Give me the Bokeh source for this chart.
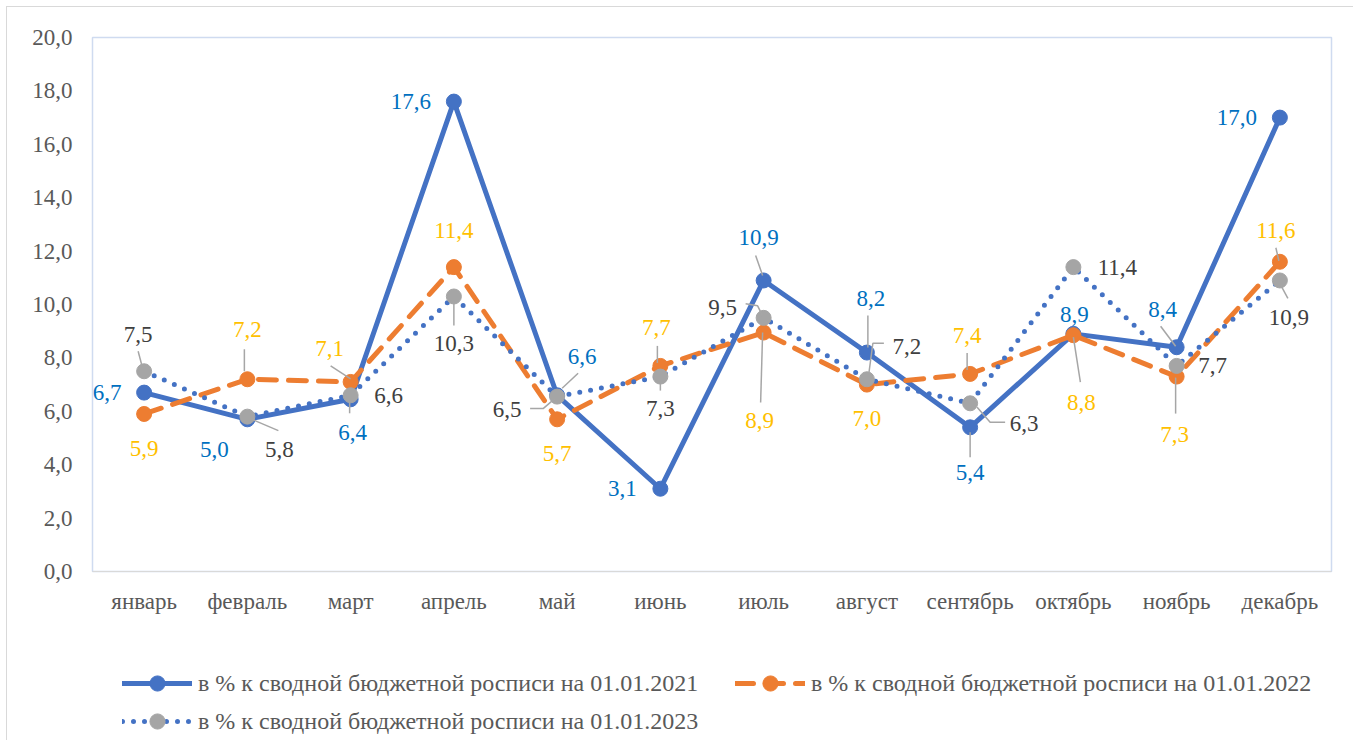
from bokeh.plotting import figure
from bokeh.layouts import column
from bokeh.models import (Range1d, FixedTicker, CustomJSTickFormatter, Legend,
                          LegendItem, ColumnDataSource)
from bokeh.core.properties import value
from bokeh.embed import file_html
from bokeh.resources import INLINE

# ---------------- data ----------------
months = ["январь", "февраль", "март", "апрель", "май", "июнь", "июль",
          "август", "сентябрь", "октябрь", "ноябрь", "декабрь"]

s2021 = [6.7, 5.7, 6.45, 17.6, 6.6, 3.1, 10.9, 8.2, 5.4, 8.9, 8.4, 17.0]
lab2021 = ["6,7", "5,0", "6,4", "17,6", "6,6", "3,1", "10,9", "8,2", "5,4", "8,9", "8,4", "17,0"]

s2022 = [5.9, 7.2, 7.1, 11.4, 5.7, 7.7, 8.95, 7.0, 7.4, 8.85, 7.3, 11.6]
lab2022 = ["5,9", "7,2", "7,1", "11,4", "5,7", "7,7", "8,9", "7,0", "7,4", "8,8", "7,3", "11,6"]

s2023 = [7.5, 5.8, 6.6, 10.3, 6.55, 7.3, 9.5, 7.2, 6.3, 11.4, 7.7, 10.9]
lab2023 = ["7,5", "5,8", "6,6", "10,3", "6,5", "7,3", "9,5", "7,2", "6,3", "11,4", "7,7", "10,9"]

names = ["в % к сводной бюджетной росписи на 01.01.2021",
         "в % к сводной бюджетной росписи на 01.01.2022",
         "в % к сводной бюджетной росписи на 01.01.2023"]

# ---------------- layout / style ----------------
W, H = 1346, 613
ML, MR, MT, MB = 85, 22, 30, 49
LH = 120
YMAX = 20
PX_X = (W - ML - MR) / 12.0
PX_Y = (H - MT - MB) / YMAX
FONT = "Liberation Serif"
FS = "23px"

BLUE, ORANGE, GRAY = "#4472C4", "#ED7D31", "#A5A5A5"
LBL_BLUE, LBL_ORANGE, LBL_GRAY = "#0070C0", "#FFC000", "#404040"

# label offsets (screen px, dy downward)
off2021 = [(-37, 0), (-33, 30), (2, 33), (-43, 0), (25, -39), (-38, 0),
           (-5, -43), (4, -54), (0, 45), (1, -19), (-14, -38), (-43, 0)]
off2022 = [(0, 35), (0, -50), (-21, -33), (0, -37), (0, 34), (-4, -38),
           (-4, 88), (0, 34), (-3, -38), (8, 67), (-2, 58), (-4, -31)]
off2023 = [(-6, -37), (32, 33), (38, 0), (0, 47), (-50, 13), (0, 32),
           (-41, -10), (40, -33), (54, 20), (44, 0), (36, 0), (9, 37)]

lead2021 = [None, None, [(-1, 3), (-1, 14)], None, [(5, -7), (21, -22)], None,
            [(-1, -5), (-8, -25)], [(1, -5), (1, -37)], [(0, 5), (0, 30)], None,
            [(-1, -1), (-16, -21)], None]
lead2022 = [None, [(-3, -8), (-3, -30)], [(0, -3), (-20, -16)], None, None,
            [(-3, -3), (-3, -20)], [(-1, 0), (-3, 70)], None, [(-3, -4), (-3, -21)],
            [(0, 2), (7, 47)], [(-1, 1), (-1, 37)], [(-1, -1), (-4, -14)]]
lead2023 = [[(-2, -5), (-6, -20)], [(3, 2), (31, 14)], None, [(0, 4), (0, 29)],
            [(0, 0), (-14, 12), (-27, 12)], [(0, 7), (0, 14)],
            [(-1, -2), (-6, -12), (-18, -14)], [(2, -6), (6, -36), (17, -36)],
            [(7, 4), (20, 19), (35, 19)], None, None, [(1, 5), (8, 18)]]

xs = [i + 0.5 for i in range(12)]

p = figure(width=W, height=H, output_backend="svg", toolbar_location=None,
           x_range=Range1d(0, 12), y_range=Range1d(0, YMAX),
           min_border_left=ML, min_border_right=MR, min_border_top=MT,
           min_border_bottom=MB, background_fill_color="white",
           border_fill_color="white")
p.xgrid.visible = False
p.ygrid.visible = False
p.outline_line_color = "#CFDBF0"
p.outline_line_width = 1.5

p.xaxis.ticker = FixedTicker(ticks=xs)
p.xaxis.formatter = CustomJSTickFormatter(args=dict(m=months),
                                          code="return m[Math.floor(tick)];")
p.yaxis.ticker = FixedTicker(ticks=list(range(0, 21, 2)))
p.yaxis.formatter = CustomJSTickFormatter(code="return tick.toFixed(1).replace('.', ',');")
for ax in (p.xaxis[0], p.yaxis[0]):
    ax.major_tick_line_color = None
    ax.minor_tick_line_color = None
    ax.major_label_text_font = FONT
    ax.major_label_text_font_size = FS
    ax.major_label_text_color = "#595959"
p.xaxis.axis_line_color = "#D9D9D9"
p.yaxis.axis_line_color = None
p.xaxis.major_label_standoff = 11
p.yaxis.major_label_standoff = 14

STY = [dict(color=BLUE, width=5, dash="solid", cap="round", fill=BLUE),
       dict(color=ORANGE, width=5, dash="18 12", cap="round", fill=ORANGE),
       dict(color=BLUE, width=5, dash="0 11", cap="round", fill=GRAY)]


def series(fig, x, y, st):
    rl = fig.line(x, y, line_color=st["color"], line_width=st["width"],
                  line_dash=st["dash"], line_cap=st["cap"], line_join="round")
    rm = fig.scatter(x, y, size=15, fill_color=st["fill"], line_color=st["fill"])
    return rl, rm


series(p, xs, s2021, STY[0])
series(p, xs, s2022, STY[1])
series(p, xs, s2023, STY[2])


def leaders(vals, polys):
    lx, ly = [], []
    for i, poly in enumerate(polys):
        if poly is None:
            continue
        lx.append([xs[i] + dx / PX_X for dx, dy in poly])
        ly.append([vals[i] - dy / PX_Y for dx, dy in poly])
    return lx, ly


def labels(vals, texts, offs, color, polys):
    lx, ly = leaders(vals, polys)
    if lx:
        p.multi_line(lx, ly, line_color="#A6A6A6", line_width=1.5)
    src = ColumnDataSource(dict(
        x=[xs[i] + offs[i][0] / PX_X for i in range(12)],
        y=[vals[i] - offs[i][1] / PX_Y for i in range(12)],
        t=texts))
    p.text("x", "y", text="t", source=src, text_font=value(FONT),
           text_font_size=value(FS), text_color=color, text_align="center",
           text_baseline="middle")


labels(s2021, lab2021, off2021, LBL_BLUE, lead2021)
labels(s2022, lab2022, off2022, LBL_ORANGE, lead2022)
labels(s2023, lab2023, off2023, LBL_GRAY, lead2023)

# ---------------- legend strip (same series, drawn out of view) ----------------
q = figure(width=W, height=LH, output_backend="svg", toolbar_location=None,
           x_range=Range1d(-100, -99), y_range=Range1d(-100, -99),
           min_border=0, x_axis_location=None, y_axis_location=None,
           background_fill_color="white", border_fill_color="white")
q.xgrid.visible = False
q.ygrid.visible = False
q.outline_line_color = None
leg_r = [series(q, xs, s, st) for s, st in zip([s2021, s2022, s2023], STY)]


def mk_legend(items, loc):
    lg = Legend(items=items, location=loc, orientation="vertical")
    lg.label_text_font = FONT
    lg.label_text_font_size = "24px"
    lg.label_text_color = "#595959"
    lg.glyph_width = 70
    lg.glyph_height = 38
    lg.label_height = 38
    lg.label_standoff = 6
    lg.spacing = 0
    lg.padding = 0
    lg.margin = 0
    lg.border_line_color = None
    lg.background_fill_alpha = 0
    q.add_layout(lg, "center")


mk_legend([LegendItem(label=names[0], renderers=list(leg_r[0])),
           LegendItem(label=names[2], renderers=list(leg_r[2]))], (30, 0))
mk_legend([LegendItem(label=names[1], renderers=list(leg_r[1]))], (643, 38))

lay = column(p, q, spacing=0,
             styles={"border-left": "1px solid #D9D9D9",
                     "border-top": "1px solid #D9D9D9",
                     "margin-left": "6px", "margin-top": "6px"})
open("out.html", "w").write(file_html(lay, INLINE))
